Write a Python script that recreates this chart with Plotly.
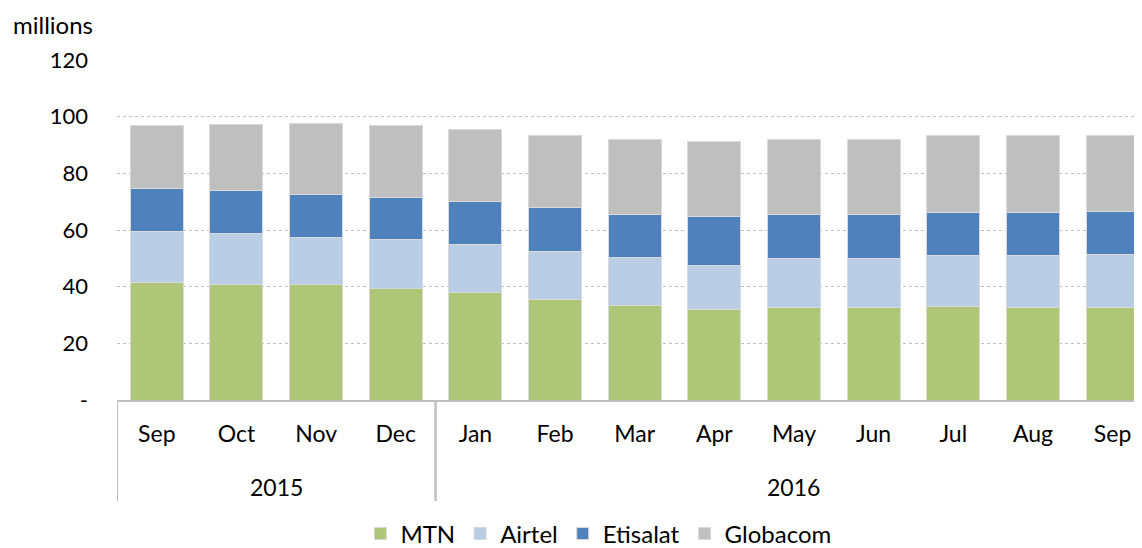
import plotly.graph_objects as go

# subscriber counts, millions
years = ["2015"] * 4 + ["2016"] * 9
months = ["Sep", "Oct", "Nov", "Dec", "Jan", "Feb", "Mar", "Apr", "May",
          "Jun", "Jul", "Aug", "Sep"]

mtn = [41.6, 40.7, 40.7, 39.5, 37.9, 35.3, 33.2, 32.1, 32.8, 32.6, 32.9, 32.5, 32.5]
airtel = [17.9, 17.9, 16.8, 17.1, 16.9, 17.2, 17.0, 15.4, 17.3, 17.5, 18.2, 18.6, 18.9]
etisalat = [15.3, 15.5, 15.0, 15.0, 15.3, 15.3, 15.1, 17.1, 15.5, 15.2, 15.1, 15.1, 15.0]
globacom = [22.1, 23.3, 25.1, 25.2, 25.4, 25.6, 26.7, 26.5, 26.4, 26.6, 27.0, 27.1, 27.0]

y_ticks = [0, 20, 40, 60, 80, 100, 120]
y_tick_text = ["-", "20", "40", "60", "80", "100", "120"]

series = [
    ("MTN", mtn, "#adc678"),
    ("Airtel", airtel, "#b9cde4"),
    ("Etisalat", etisalat, "#4f81bd"),
    ("Globacom", globacom, "#bfbfbf"),
]

font_name = "Lato, 'Open Sans', sans-serif"
line_col = "#bfbfbf"

# months repeat (Sep twice) so bars sit on index positions with month tick text
pos = list(range(len(months)))

fig = go.Figure()
for name, vals, col in series:
    fig.add_trace(go.Bar(
        x=pos, y=vals, name=name,
        marker=dict(color=col, line=dict(color="#d9d9d9", width=1)),
    ))

# year row under the month labels + group dividers
annotations = [dict(
    text="millions", xref="paper", yref="paper", x=-0.103, y=1.103,
    xanchor="left", yanchor="middle", showarrow=False,
    font=dict(size=24),
)]
shapes = []
for yr in dict.fromkeys(years):
    idx = [i for i, y in enumerate(years) if y == yr]
    annotations.append(dict(
        text=yr, x=sum(idx) / len(idx), xref="x", y=-0.256, yref="paper",
        yanchor="middle", showarrow=False, font=dict(size=23),
    ))
    for edge in (idx[0] - 0.5, idx[-1] + 0.5):
        shapes.append(dict(
            type="line", xref="x", yref="paper", x0=edge, x1=edge,
            y0=0, y1=-0.297, line=dict(color=line_col, width=2),
        ))

fig.update_layout(
    barmode="stack",
    bargap=0.335,
    width=1142, height=548,
    margin=dict(l=109, r=0, t=52, b=156, autoexpand=False),
    paper_bgcolor="white",
    plot_bgcolor="white",
    font=dict(family=font_name, size=23, color="#000000"),
    legend=dict(
        orientation="h", x=0.466, xanchor="center", y=-0.394, yanchor="middle",
        font=dict(size=24), traceorder="normal", itemwidth=30,
    ),
    annotations=annotations,
    shapes=shapes,
)

fig.update_yaxes(
    range=[0, 120],
    tickvals=y_ticks, ticktext=y_tick_text,
    showgrid=True, gridcolor=line_col, griddash="dot", gridwidth=1,
    zeroline=False, showline=False, ticks="",
    ticklabelstandoff=28, tickfont=dict(size=22),
)

fig.update_xaxes(
    range=[-0.5, 12.47],
    tickvals=pos, ticktext=months,
    showline=True, linecolor=line_col, linewidth=2,
    ticks="", showgrid=False, zeroline=False,
    ticklabelstandoff=12,
)

fig.write_html("out.html")
